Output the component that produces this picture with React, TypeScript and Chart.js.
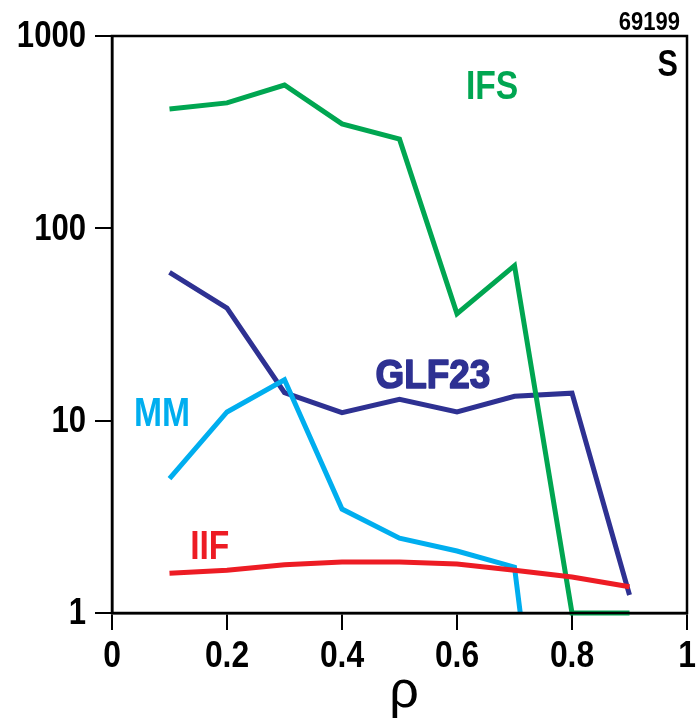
import React, { useEffect, useRef } from "react";
import { Chart, registerables } from "chart.js";

Chart.register(...registerables);

// Normalised radius
const rho = [0.1, 0.2, 0.3, 0.4, 0.5, 0.6, 0.7, 0.8, 0.9];
const rhoMM = [0.1, 0.2, 0.3, 0.4, 0.5, 0.6, 0.7, 0.71];

// Model values per radius (log scale)
const ifsValues = [417, 449, 556, 349, 291, 36, 64, 1, 1];
const glf23Values = [59, 38.5, 14, 11, 12.9, 11.1, 13.4, 13.9, 1.24];
const mmValues = [5.0, 11.1, 16.3, 3.47, 2.45, 2.1, 1.73, 1];
const iifValues = [1.61, 1.67, 1.78, 1.84, 1.84, 1.8, 1.67, 1.54, 1.37];

const yTicks = [1, 10, 100, 1000];
const yTickLabels = ["1", "10", "100", "1000"];
const xTicks = [0, 0.2, 0.4, 0.6, 0.8, 1];
const xTickLabels = ["0", "0.2", "0.4", "0.6", "0.8", "1"];

const GREEN = "#00a651";
const NAVY = "#2e3192";
const CYAN = "#00aeef";
const RED = "#ed1c24";

const SANS = "'Liberation Sans', Arial, Helvetica, sans-serif";

// Series names placed in data coordinates
const seriesLabels = [
  { text: "IFS", x: 0.661, y: 537, color: GREEN, sx: 0.82, stroke: 0 },
  { text: "GLF23", x: 0.558, y: 16.9, color: NAVY, sx: 0.9, stroke: 1.6 },
  { text: "MM", x: 0.087, y: 10.8, color: CYAN, sx: 0.82, stroke: 0 },
  { text: "IIF", x: 0.17, y: 2.18, color: RED, sx: 0.82, stroke: 0 },
];

const toPoints = (xs: number[], ys: number[]) => xs.map((x, i) => ({ x, y: ys[i] }));

// condensed bold text: regular bold face squeezed horizontally
function drawText(ctx: CanvasRenderingContext2D, text: string, x: number, y: number, sx: number, stroke = 0) {
  ctx.save();
  ctx.translate(x, y);
  ctx.scale(sx, 1);
  if (stroke > 0) {
    ctx.lineWidth = stroke;
    ctx.lineJoin = "round";
    ctx.strokeStyle = ctx.fillStyle as string;
    ctx.strokeText(text, 0, 0);
  }
  ctx.fillText(text, 0, 0);
  ctx.restore();
}

const framePlugin = {
  id: "frameAndLabels",
  afterDatasetsDraw(chart: any) {
    const { ctx, chartArea, scales } = chart;
    const xs = scales.x;
    const ys = scales.y;
    ctx.save();
    // closed frame around the plot
    ctx.strokeStyle = "#000";
    ctx.lineWidth = 2.5;
    ctx.strokeRect(chartArea.left, chartArea.top, chartArea.right - chartArea.left, chartArea.bottom - chartArea.top);

    // tick labels
    ctx.fillStyle = "#000";
    ctx.font = `bold 37px ${SANS}`;
    ctx.textBaseline = "middle";
    ctx.textAlign = "right";
    yTicks.forEach((v, i) => drawText(ctx, yTickLabels[i], chartArea.left - 26, ys.getPixelForValue(v) + 1, 0.84));
    ctx.textAlign = "center";
    xTicks.forEach((v, i) => drawText(ctx, xTickLabels[i], xs.getPixelForValue(v), chartArea.bottom + 44, 0.86));

    // series names
    ctx.font = `bold 41px ${SANS}`;
    for (const l of seriesLabels) {
      ctx.fillStyle = l.color;
      drawText(ctx, l.text, xs.getPixelForValue(l.x), ys.getPixelForValue(l.y), l.sx, l.stroke);
    }

    // shot number and panel tag
    ctx.fillStyle = "#000";
    ctx.textAlign = "right";
    ctx.textBaseline = "alphabetic";
    ctx.font = `bold 25px ${SANS}`;
    drawText(ctx, "69199", chartArea.right - 7, chartArea.top - 6, 0.88);
    ctx.font = `bold 36px ${SANS}`;
    drawText(ctx, "S", chartArea.right - 9, chartArea.top + 40, 0.85);

    // axis title
    ctx.textAlign = "center";
    ctx.font = `52px ${SANS}`;
    ctx.fillText("\u03c1", xs.getPixelForValue(0.508), chartArea.bottom + 94);
    ctx.restore();
  },
};

export default function App() {
  const canvasRef = useRef<HTMLCanvasElement | null>(null);

  useEffect(() => {
    document.body.style.margin = "0";
    const canvas = canvasRef.current;
    if (!canvas) return;
    const lineStyle = { borderWidth: 5, pointRadius: 0, fill: false, tension: 0, clip: 6 as any };
    const chart = new Chart(canvas, {
      type: "line",
      data: {
        datasets: [
          { label: "IIF", data: toPoints(rho, iifValues), borderColor: RED, ...lineStyle },
          { label: "IFS", data: toPoints(rho, ifsValues), borderColor: GREEN, ...lineStyle },
          { label: "MM", data: toPoints(rhoMM, mmValues), borderColor: CYAN, ...lineStyle },
          { label: "GLF23", data: toPoints(rho, glf23Values), borderColor: NAVY, ...lineStyle },
        ],
      },
      options: {
        responsive: true,
        maintainAspectRatio: false,
        animation: false,
        layout: { padding: { top: 36, right: 9, left: 0, bottom: 0 } },
        plugins: { legend: { display: false }, tooltip: { enabled: false } },
        scales: {
          x: {
            type: "linear",
            min: 0,
            max: 1,
            afterFit: (s: any) => { s.height = 115; s.paddingLeft = 0; s.paddingRight = 0; },
            afterBuildTicks: (s: any) => { s.ticks = xTicks.map((v) => ({ value: v })); },
            ticks: { display: false },
            grid: { drawOnChartArea: false, drawTicks: true, tickLength: 17, color: "#000", lineWidth: 2 },
            border: { display: true, color: "#000", width: 2.5 },
          },
          y: {
            type: "logarithmic",
            min: 1,
            max: 1000,
            afterFit: (s: any) => { s.width = 112; s.paddingTop = 0; s.paddingBottom = 0; },
            afterBuildTicks: (s: any) => { s.ticks = yTicks.map((v) => ({ value: v, major: true })); },
            ticks: { display: false },
            grid: { drawOnChartArea: false, drawTicks: true, tickLength: 17, color: "#000", lineWidth: 2 },
            border: { display: true, color: "#000", width: 2.5 },
          },
        },
      },
      plugins: [framePlugin],
    });
    return () => chart.destroy();
  }, []);

  return (
    <div style={{ width: 696, height: 728, position: "relative" }}>
      <canvas ref={canvasRef} />
    </div>
  );
}
